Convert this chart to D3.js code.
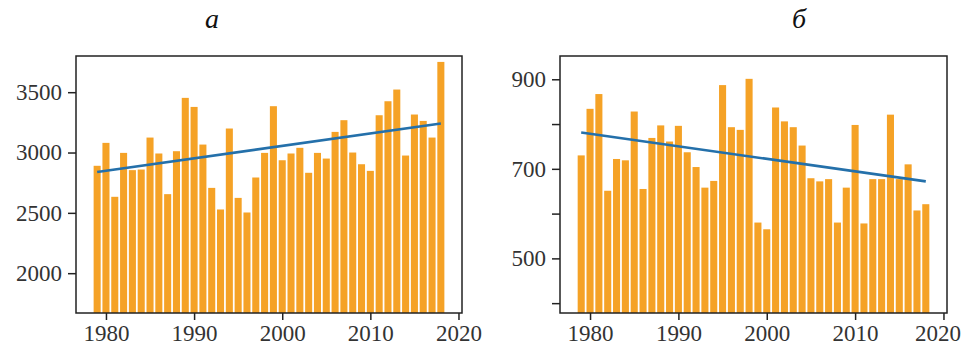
<html>
<head>
  <meta charset="utf-8">
  <script src="https://cdn.jsdelivr.net/npm/d3@7"></script>
  <style>
    body { margin: 0; background: #fff; }
    svg text { font-family: "Liberation Serif", serif; }
  </style>
</head>
<body>
  <script>
    // years shown on both panels
    const years = d3.range(1979, 2019);

    // panel a
    const valuesA = [2890, 3080, 2633, 2997, 2854, 2859, 3124, 2992, 2655, 3011,
                     3453, 3378, 3066, 2707, 2528, 3199, 2624, 2503, 2793, 2997,
                     3384, 2936, 2992, 3039, 2832, 2997, 2950, 3171, 3268, 3000,
                     2903, 2848, 3309, 3425, 3522, 2975, 3315, 3262, 3124, 3751];
    const trendA = [2839, 3240];
    const yTicksA = [2000, 2500, 3000, 3500];

    // panel b
    const valuesB = [730, 834, 867, 651, 722, 719, 828, 655, 769, 797,
                     761, 796, 737, 704, 658, 673, 887, 793, 787, 901,
                     580, 565, 837, 806, 793, 752, 679, 672, 677, 580,
                     658, 798, 578, 677, 677, 821, 677, 710, 607, 621];
    const trendB = [781, 672];
    const yTicksB = [400, 500, 600, 700, 800, 900];
    const yLabelsB = [500, 700, 900];

    const xTicks = [1980, 1990, 2000, 2010, 2020];
    const titles = ["а", "б"];

    const width = 964, height = 356;
    const svg = d3.select('body').append('svg')
      .attr('width', width)
      .attr('height', height);

    const barColor = '#f5a226';
    const lineColor = '#2470aa';

    function panel(opts) {
      const x = d3.scaleLinear().domain([1976.6, 2020.4]).range([opts.left, opts.right]);
      const y = d3.scaleLinear().domain(opts.ylim).range([313, 56]);
      const g = svg.append('g');

      const clipId = 'clip' + opts.id;
      g.append('clipPath').attr('id', clipId)
        .append('rect')
        .attr('x', opts.left).attr('y', 56)
        .attr('width', opts.right - opts.left).attr('height', 257);

      const plot = g.append('g').attr('clip-path', 'url(#' + clipId + ')');

      plot.selectAll('rect.bar')
        .data(years)
        .enter()
        .append('rect')
        .attr('class', 'bar')
        .attr('x', d => x(d - 0.4))
        .attr('width', d => x(d + 0.4) - x(d - 0.4))
        .attr('y', (d, i) => y(opts.values[i]))
        .attr('height', (d, i) => 313 - y(opts.values[i]) + 2)
        .attr('fill', barColor);

      const line = d3.line()
        .x(d => x(d[0]))
        .y(d => y(d[1]));
      plot.append('path')
        .attr('d', line([[years[0], opts.trend[0]], [years[years.length - 1], opts.trend[1]]]))
        .attr('stroke', lineColor)
        .attr('stroke-width', 2.6)
        .attr('fill', 'none');

      // frame
      g.append('rect')
        .attr('x', opts.left).attr('y', 56)
        .attr('width', opts.right - opts.left).attr('height', 257)
        .attr('fill', 'none')
        .attr('stroke', '#222')
        .attr('stroke-width', 1.5);

      const xAxis = g.append('g')
        .attr('transform', 'translate(0,313)')
        .call(d3.axisBottom(x).tickValues(xTicks).tickFormat(d3.format('d')).tickSize(7).tickPadding(5));
      const yAxis = g.append('g')
        .attr('transform', 'translate(' + opts.left + ',0)')
        .call(d3.axisLeft(y).tickValues(opts.yTicks)
          .tickFormat(d => opts.yLabels.includes(d) ? d : '')
          .tickSize(8).tickPadding(6));

      [xAxis, yAxis].forEach(a => {
        a.attr('font-family', null);
        a.select('.domain').remove();
        a.selectAll('line').attr('stroke', '#222').attr('stroke-width', 1.5);
        a.selectAll('text')
          .attr('fill', '#333')
          .style('font-size', '23px');
      });

      // last year label sits at the page edge, keep it inside
      xAxis.selectAll('text').filter(d => d === 2020 && opts.right > 900)
        .attr('dx', -6);

      svg.append('text')
        .attr('x', opts.titleX)
        .attr('y', 28)
        .attr('text-anchor', 'middle')
        .style('font-size', '28px')
        .style('font-style', 'italic')
        .attr('fill', '#111')
        .text(opts.title);
    }

    panel({id: 'a', left: 76, right: 462, ylim: [1670, 3800], values: valuesA, trend: trendA,
           yTicks: yTicksA, yLabels: yTicksA, title: titles[0], titleX: 212});
    panel({id: 'b', left: 560, right: 947, ylim: [378, 952], values: valuesB, trend: trendB,
           yTicks: yTicksB, yLabels: yLabelsB, title: titles[1], titleX: 799});
  </script>
</body>
</html>
